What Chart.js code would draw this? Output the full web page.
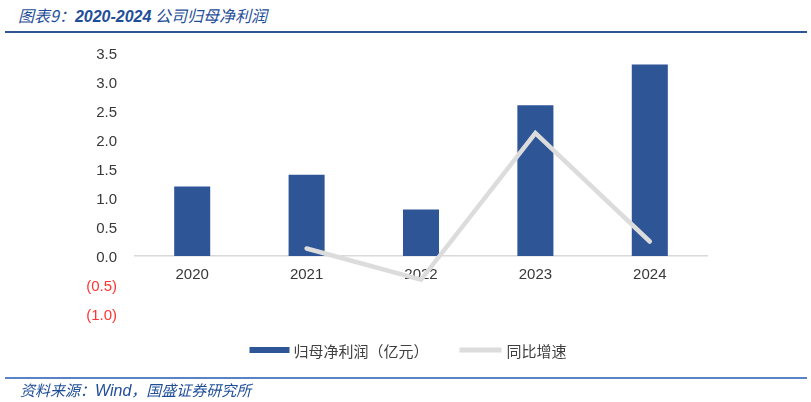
<!DOCTYPE html>
<html>
<head>
<meta charset="utf-8">
<script src="https://cdn.jsdelivr.net/npm/chart.js@4.4.1/dist/chart.umd.min.js"></script>
<style>
  html, body { margin: 0; padding: 0; background: #fff; }
  #wrap { position: relative; width: 811px; height: 402px; overflow: hidden; }
  #c { position: absolute; left: 0; top: 0; }
  .title { position: absolute; left: 18px; top: 3px; font: italic 16px "Noto Sans CJK SC", sans-serif; color: #1F4E99; white-space: nowrap; }
  .title b { font-family: "Liberation Sans", "Noto Sans CJK SC", sans-serif; font-weight: bold; }
  .hline { position: absolute; left: 5px; width: 802px; }
  .src { position: absolute; left: 20px; top: 379px; font: italic 15px "Noto Sans CJK SC", sans-serif; color: #1F4E99; white-space: nowrap; }
  .src span { font-family: "Liberation Sans", sans-serif; font-size: 16px; }
</style>
</head>
<body>
<div id="wrap">
  <div class="title">图表9：<b>2020-2024</b> 公司归母净利润</div>
  <div class="hline" style="top:31px;height:2px;background:#2F5597;"></div>
  <canvas id="c" width="811" height="402"></canvas>
  <div class="hline" style="top:377px;height:2px;background:#5B82C6;"></div>
  <div class="src">资料来源：<span>Wind</span>，国盛证券研究所</div>
</div>
<script>
const categories = ["2020", "2021", "2022", "2023", "2024"];
const netProfit = [1.2, 1.4, 0.8, 2.6, 3.3];
const yoyGrowth = [null, 0.13, -0.41, 2.12, 0.25];
const seriesNames = ["归母净利润（亿元）", "同比增速"];
const yMin = -1.0, yMax = 3.5, yStep = 0.5;

const legendPlugin = {
  id: 'customLegend',
  afterDraw(chart) {
    const ctx = chart.ctx;
    ctx.save();
    ctx.font = '15px "Noto Sans CJK SC", sans-serif';
    ctx.textBaseline = 'middle';
    const ds = chart.data.datasets;
    const boxW = 40, gapText = 4, gapItem = 31;
    const w1 = ctx.measureText(ds[0].label).width;
    const w2 = ctx.measureText(ds[1].label).width;
    const total = boxW + gapText + w1 + gapItem + 42 + 5 + w2;
    let x = 408 - total / 2;
    const y = 350;
    ctx.fillStyle = ds[0].backgroundColor;
    ctx.fillRect(x, y - 3, boxW, 6);
    ctx.fillStyle = '#404040';
    ctx.fillText(ds[0].label, x + boxW + gapText, y + 1);
    x += boxW + gapText + w1 + gapItem;
    ctx.fillStyle = ds[1].borderColor;
    ctx.fillRect(x, y - 2.5, 42, 5);
    ctx.fillStyle = '#404040';
    ctx.fillText(ds[1].label, x + 42 + 5, y + 1);
    ctx.restore();
  }
};

new Chart(document.getElementById('c'), {
  type: 'bar',
  data: {
    labels: categories,
    datasets: [
      {
        type: 'bar',
        label: seriesNames[0],
        data: netProfit,
        backgroundColor: '#2E5596',
        barPercentage: 0.315,
        categoryPercentage: 1.0,
        order: 2
      },
      {
        type: 'line',
        label: seriesNames[1],
        data: yoyGrowth,
        borderColor: '#DCDCDC',
        borderWidth: 4.5,
        pointRadius: 0,
        borderCapStyle: 'round',
        borderJoinStyle: 'miter',
        spanGaps: false,
        order: 1
      }
    ]
  },
  options: {
    responsive: false,
    animation: false,
    devicePixelRatio: 1,
    layout: { padding: { left: 0, right: 104, top: 53, bottom: 88 } },
    plugins: { legend: { display: false }, tooltip: { enabled: false } },
    scales: {
      x: {
        position: { y: 0 },
        offset: true,
        grid: { display: false, drawTicks: false },
        border: { display: true, color: '#D9D9D9', width: 1.5 },
        ticks: {
          color: '#383838',
          font: { family: '"Liberation Sans", Arial, sans-serif', size: 15 },
          padding: 10
        }
      },
      y: {
        min: yMin,
        max: yMax,
        afterFit(scale) { scale.width = 135; },
        grid: { display: false, drawTicks: false },
        border: { display: false },
        ticks: {
          stepSize: yStep,
          padding: 18,
          labelOffset: 2,
          font: { family: '"Liberation Sans", Arial, sans-serif', size: 15 },
          color: (c) => (c.tick && c.tick.value < 0 ? '#FF3333' : '#383838'),
          callback: (v) => {
            const s = Math.abs(v).toFixed(1);
            return v < 0 ? '(' + s + ')' : s;
          }
        }
      }
    }
  },
  plugins: [legendPlugin]
});
</script>
</body>
</html>
